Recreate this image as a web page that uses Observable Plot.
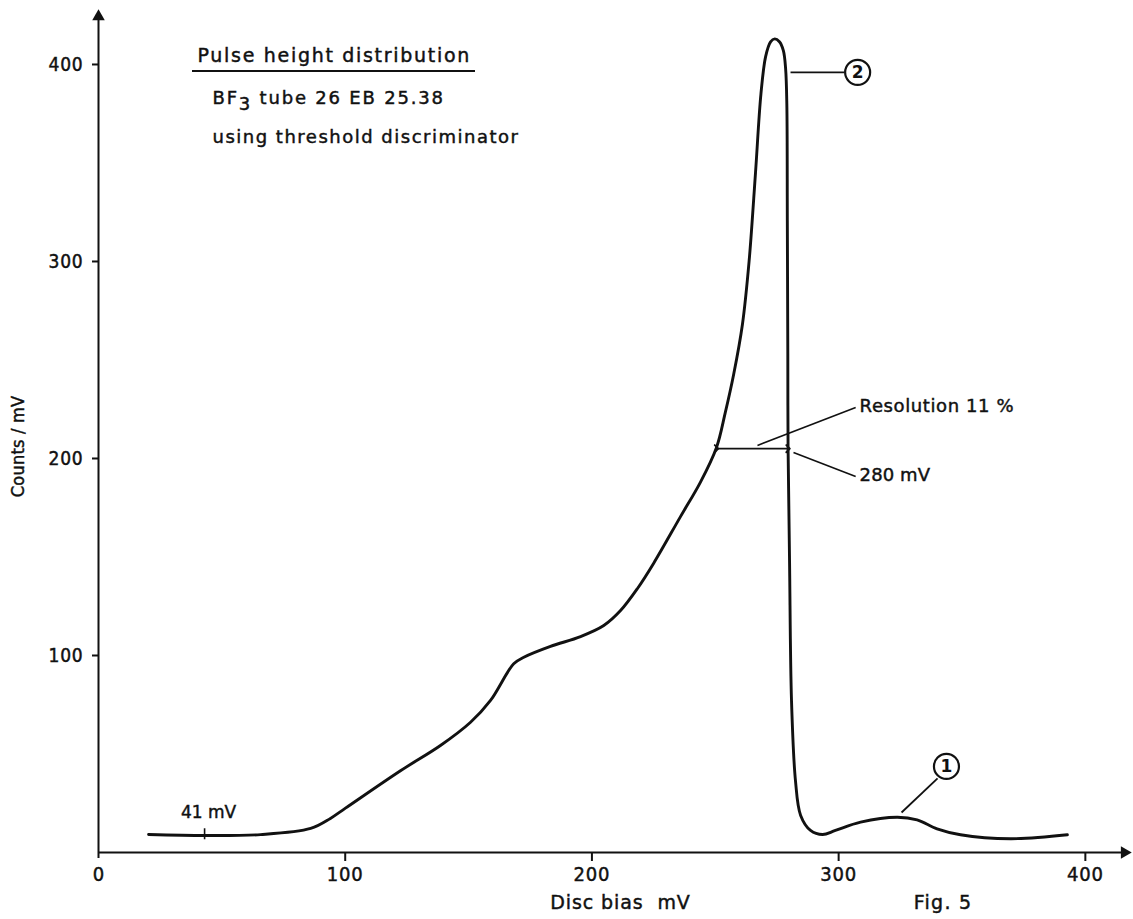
<!DOCTYPE html>
<html><head><meta charset="utf-8">
<script src="https://cdn.jsdelivr.net/npm/d3@7"></script>
<script src="https://cdn.jsdelivr.net/npm/@observablehq/plot@0.6"></script>
<style>
body{margin:0;background:#fff;}
#chart{position:relative;width:1133px;height:919px;}
</style></head><body><div id="chart"></div>
<script>
// Pulse height distribution, BF3 tube 26 EB 25.38 (Fig. 5)
const biasMV = [20.3, 43.4, 65.7, 86, 94, 100.1, 122.4, 138.6, 150.8, 158.9, 168.3, 172.4, 183.2, 195.4, 204.8, 211.6, 218.4, 225.1, 235.9, 244, 250.5, 254, 257.5, 261, 263.7, 266.3, 268.5, 270.4, 272.4, 274.1, 276, 277.6, 278.5, 279, 279.2, 279.4, 279.5, 280.1, 280.9, 282.5, 284.6, 288.6, 293.5, 298.7, 308.9, 323.7, 331.8, 339.9, 349.4, 369.7, 392.7];
const countsPerMV = [9.1, 8.6, 9.1, 12.2, 17.3, 22.5, 41.5, 54.3, 66.1, 77.2, 95.8, 99.1, 104.6, 109.6, 115.2, 122.8, 133.9, 147, 170.5, 188, 205.6, 223, 243, 268, 300, 345, 385, 404, 411.5, 413, 411.5, 407, 398, 380, 320.8, 253.3, 205.6, 148, 77, 36.5, 18.8, 11.2, 9.1, 11.2, 15.4, 17.9, 16.6, 12, 9, 7, 9];

const xTicks = [0, 100, 200, 300, 400];
const yTicks = [100, 200, 300, 400];
const xLabel = "Disc bias  mV";
const yLabel = "Counts / mV";
const titleLines = ["Pulse height distribution", "BF3 tube 26 EB 25.38", "using threshold discriminator"];
const figLabel = "Fig. 5";

// annotations (data units)
const thresholdMV = 43;           // marked threshold on the curve
const thresholdLabel = "41 mV";
const fwhmStart = 250.5, fwhmEnd = 279.5, halfMax = 205; // resolution arrow
const resolutionLabel = "Resolution 11 %";
const edgeLabel = "280 mV";
const peakMarkers = [
  {id: "2", cx: 307.7, cy: 396, fromX: 280.5, fromY: 396, toX: 302.4, toY: 396},
  {id: "1", cx: 343.7, cy: 43.7, fromX: 325.5, fromY: 20.3, toX: 340.1, toY: 37.6}
];

const curve = biasMV.map((x, i) => ({x, y: countsPerMV[i]}));
const xMax = 418.3, yMax = 427.4;
const ink = "#111";
const REG = "DejaVu Sans, sans-serif";
const COND = "DejaVu Sans Condensed, DejaVu Sans, sans-serif";

const plot = Plot.plot({
  width: 1133, height: 919,
  marginLeft: 98, marginRight: 3, marginTop: 10, marginBottom: 67,
  x: {domain: [0, xMax], axis: null},
  y: {domain: [0, yMax], axis: null},
  style: {background: "#fff", color: ink, fontSize: "18px", overflow: "visible"},
  marks: [
    // axes
    Plot.ruleY([0], {x1: 0, x2: xMax, stroke: ink, strokeWidth: 2, insetRight: 6}),
    Plot.ruleX([0], {y1: 0, y2: yMax, stroke: ink, strokeWidth: 2, insetTop: 6, insetBottom: -8}),
    Plot.dot([0], {x: xMax, y: 0, symbol: "triangle2", rotate: 90, r: 6, fill: ink, dx: -6}),
    Plot.dot([0], {x: 0, y: yMax, symbol: "triangle2", rotate: 0, r: 6, fill: ink, dy: 6}),
    Plot.ruleX(xTicks.filter(d => d > 0), {x: d => d, y1: 0, y2: 0, insetBottom: -9, stroke: ink, strokeWidth: 2}),
    Plot.ruleY(yTicks, {y: d => d, x1: 0, x2: 0, insetLeft: -6, stroke: ink, strokeWidth: 2}),
    Plot.text(xTicks, {x: d => d, y: 0, dy: 22, text: d => String(d), fontSize: 20, fontFamily: COND, fill: ink}),
    Plot.text(yTicks, {x: 0, y: d => d, dx: -15, textAnchor: "end", text: d => String(d), fontSize: 19, fontFamily: COND, fill: ink}),
    // axis titles
    Plot.text([xLabel], {frameAnchor: "bottom", lineAnchor: "middle", dx: 6, dy: 50, text: d => d, fontSize: 19, fontFamily: REG, fill: ink}),
    Plot.text([figLabel], {frameAnchor: "bottom-right", textAnchor: "end", lineAnchor: "middle", dx: -158, dy: 50, text: d => d, fontSize: 19, fontFamily: REG, fill: ink}),
    Plot.text([yLabel], {frameAnchor: "left", textAnchor: "middle", lineAnchor: "middle", dx: -80, dy: 15, rotate: -90, text: d => d, fontSize: 18, fontFamily: COND, fill: ink}),
    // title block
    Plot.text([titleLines[0]], {frameAnchor: "top-left", lineAnchor: "middle", dx: 99, dy: 45, text: d => d, textAnchor: "start", fontSize: 19, fontFamily: REG, fill: ink}),
    Plot.text([titleLines[1]], {frameAnchor: "top-left", lineAnchor: "middle", dx: 114, dy: 88, text: d => d, textAnchor: "start", fontSize: 18, fontFamily: REG, fill: ink}),
    Plot.text([titleLines[2]], {frameAnchor: "top-left", lineAnchor: "middle", dx: 114, dy: 127, text: d => d, textAnchor: "start", fontSize: 18, fontFamily: REG, fill: ink}),
    // curve
    Plot.line(curve, {x: "x", y: "y", curve: "catmull-rom", stroke: ink, strokeWidth: 2.9}),
    // threshold mark
    Plot.ruleX([thresholdMV], {x: d => d, y1: 9, y2: 9, insetTop: -6, insetBottom: -5, stroke: ink, strokeWidth: 1.6}),
    Plot.text([thresholdLabel], {x: 44.6, y: 20.5, text: d => d, fontSize: 17, fontFamily: REG, fill: ink}),
    // resolution
    Plot.link([0], {x1: fwhmStart, x2: fwhmEnd, y1: halfMax, y2: halfMax, stroke: ink, strokeWidth: 1.8, markerStart: "arrow", markerEnd: "arrow"}),
    Plot.link([0], {x1: 267.1, y1: 206.6, x2: 306.9, y2: 225.9, stroke: ink, strokeWidth: 1.6}),
    Plot.link([0], {x1: 281.7, y1: 203, x2: 306.9, y2: 190.9, stroke: ink, strokeWidth: 1.6}),
    Plot.text([resolutionLabel], {x: 308.5, y: 226.4, text: d => d, textAnchor: "start", fontSize: 18, fontFamily: REG, fill: ink}),
    Plot.text([edgeLabel], {x: 308.5, y: 191.5, text: d => d, textAnchor: "start", fontSize: 18, fontFamily: REG, fill: ink}),
    // peak markers
    Plot.link(peakMarkers, {x1: "fromX", y1: "fromY", x2: "toX", y2: "toY", stroke: ink, strokeWidth: 1.8}),
    Plot.dot(peakMarkers, {x: "cx", y: "cy", r: 12.5, stroke: ink, strokeWidth: 2.2, fill: "#fff"}),
    Plot.text(peakMarkers, {x: "cx", y: "cy", text: "id", fontSize: 17, fontWeight: "bold", fontFamily: REG, fill: ink})
  ]
});

document.getElementById("chart").appendChild(plot);

// letter spacing and a slightly heavier pen for the drafting-style lettering
const spacing = new Map([
  [titleLines[0], 1.7], [titleLines[1], 1.8], [titleLines[2], 1.5],
  [xLabel, 0.9], [figLabel, 1.3], [resolutionLabel, 0.6], [edgeLabel, 0.1],
  [yLabel, 0.2], ["100", 0.8], ["200", 0.8], ["300", 0.8], ["400", 0.8]
]);
d3.select(plot).selectAll("text").each(function() {
  const t = this.textContent;
  if (spacing.has(t)) this.setAttribute("letter-spacing", spacing.get(t));
  if (t !== "1" && t !== "2") {
    this.setAttribute("stroke", ink);
    this.setAttribute("stroke-width", 0.45);
  }
  if (t === titleLines[1]) {
    // BF3 with subscript 3
    const sel = d3.select(this);
    sel.text(null);
    sel.append("tspan").text("BF");
    sel.append("tspan").attr("dy", 6).text("3");
    sel.append("tspan").attr("dy", -6).text(" tube 26 EB 25.38");
  }
});
// underline of the title
d3.select(plot).append("line")
  .attr("x1", 192).attr("x2", 475).attr("y1", 71).attr("y2", 71)
  .attr("stroke", ink).attr("stroke-width", 2);
</script>
</body></html>
